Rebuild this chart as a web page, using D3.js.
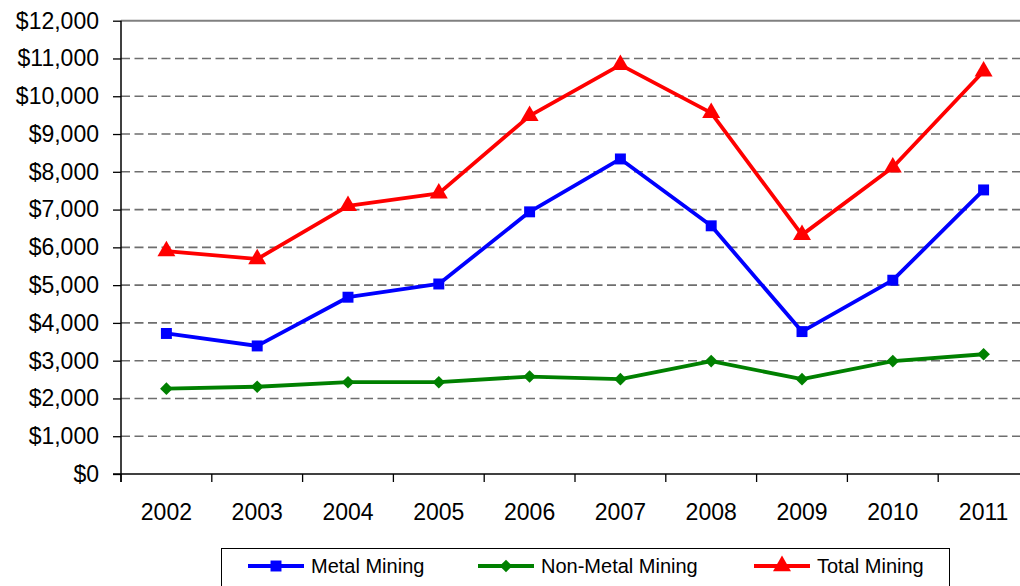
<!DOCTYPE html>
<html>
<head>
<meta charset="utf-8">
<script src="https://cdn.jsdelivr.net/npm/d3@7"></script>
<style>
  body { margin: 0; background: #fff; }
  svg { display: block; font-family: "Liberation Sans", Arial, sans-serif; }
</style>
</head>
<body>
<svg id="chart" width="1020" height="586"></svg>
<script>
// data ($ millions)
const years = ["2002","2003","2004","2005","2006","2007","2008","2009","2010","2011"];
const metalMining    = [3720, 3390, 4680, 5030, 6940, 8340, 6570, 3770, 5130, 7520];
const nonMetalMining = [2260, 2310, 2430, 2430, 2580, 2510, 2990, 2510, 2990, 3170];
const totalMining    = [5900, 5690, 7100, 7430, 9480, 10830, 9560, 6330, 8120, 10660];
const yTicks = [0,1000,2000,3000,4000,5000,6000,7000,8000,9000,10000,11000,12000];
const seriesNames = ["Metal Mining", "Non-Metal Mining", "Total Mining"];

// diamond = square turned 45 degrees (excel style)
const series = [
  {name: seriesNames[0], values: metalMining, color: "#0000ff", symbol: d3.symbolSquare, size: 120, rot: 0},
  {name: seriesNames[1], values: nonMetalMining, color: "#008000", symbol: d3.symbolSquare, size: 80, rot: 45},
  {name: seriesNames[2], values: totalMining, color: "#ff0000", symbol: d3.symbolTriangle, size: 140, rot: 0}
];

const svg = d3.select("#chart");
const plotLeft = 121, plotRight = 1029, plotTop = 20.7, plotBottom = 474;

let x = d3.scaleBand().domain(years).range([plotLeft, plotRight]).padding(0);
let y = d3.scaleLinear().domain([0, 12000]).range([plotBottom, plotTop]);

// title - cut off by the top edge in the original, only descenders show
svg.append("text")
  .attr("x", 520).attr("y", -5)
  .attr("text-anchor", "middle")
  .attr("font-size", 24).attr("font-weight", "bold")
  .text("Arizona Mining Value by Sector, by Year");

// dashed grid lines
svg.append("g").selectAll("line")
  .data(yTicks.filter(d => d > 0 && d < 12000))
  .enter().append("line")
  .attr("x1", plotLeft).attr("x2", 1020)
  .attr("y1", d => y(d)).attr("y2", d => y(d))
  .attr("stroke", "#6e6e6e").attr("stroke-width", 1.6)
  .attr("stroke-dasharray", "9,4.5");

// top border of plot
svg.append("line")
  .attr("x1", plotLeft).attr("x2", 1020)
  .attr("y1", y(12000)).attr("y2", y(12000))
  .attr("stroke", "#808080").attr("stroke-width", 2);

// y axis
let yAxis = svg.append("g")
  .attr("transform", "translate(" + plotLeft + ",0)")
  .call(d3.axisLeft(y).tickValues(yTicks).tickSize(8).tickPadding(14)
    .tickFormat(d => "$" + d3.format(",")(d)));
yAxis.select(".domain").remove();
yAxis.selectAll(".tick line").attr("stroke", "#000").attr("stroke-width", 1.3);
yAxis.selectAll("text").attr("font-size", 23).attr("fill", "#000")
  .attr("font-family", "'Liberation Sans', Arial, sans-serif");

svg.append("line")
  .attr("x1", plotLeft).attr("x2", plotLeft)
  .attr("y1", plotTop).attr("y2", plotBottom + 8)
  .attr("stroke", "#000").attr("stroke-width", 1.5);

// x axis
let xAxis = svg.append("g")
  .attr("transform", "translate(0," + plotBottom + ")")
  .call(d3.axisBottom(x).tickSize(0).tickPadding(30));
xAxis.select(".domain").remove();
xAxis.selectAll("text").attr("font-size", 23).attr("fill", "#000")
  .attr("font-family", "'Liberation Sans', Arial, sans-serif");

svg.append("line")
  .attr("x1", plotLeft - 8).attr("x2", 1020)
  .attr("y1", plotBottom).attr("y2", plotBottom)
  .attr("stroke", "#000").attr("stroke-width", 1.5);

svg.append("g").selectAll("line")
  .data(years.map(d => x(d)).concat([x.range()[1]]))
  .enter().append("line")
  .attr("x1", d => d).attr("x2", d => d)
  .attr("y1", plotBottom).attr("y2", plotBottom + 8)
  .attr("stroke", "#000").attr("stroke-width", 1.3);

// lines + markers
const cx = (d, i) => x(years[i]) + x.bandwidth() / 2;
const line = d3.line().x(cx).y(d => y(d));

series.forEach(s => {
  svg.append("path")
    .datum(s.values)
    .attr("fill", "none")
    .attr("stroke", s.color)
    .attr("stroke-width", 3.8)
    .attr("stroke-linejoin", "round")
    .attr("d", line);

  svg.append("g").selectAll("path")
    .data(s.values)
    .enter().append("path")
    .attr("d", d3.symbol().type(s.symbol).size(s.size))
    .attr("fill", s.color)
    .attr("transform", (d, i) => "translate(" + cx(d, i) + "," + y(d) + ") rotate(" + s.rot + ")");
});

// legend
const legend = svg.append("g");
legend.append("rect")
  .attr("x", 221.5).attr("y", 548.5).attr("width", 728).attr("height", 50)
  .attr("fill", "#fff").attr("stroke", "#000").attr("stroke-width", 1);

const legendX = [248, 478, 754];
series.forEach((s, i) => {
  let g = legend.append("g").attr("transform", "translate(" + legendX[i] + ",566)");
  g.append("line").attr("x1", 0).attr("x2", 56).attr("y1", 0).attr("y2", 0)
    .attr("stroke", s.color).attr("stroke-width", 3.8);
  g.append("path").attr("d", d3.symbol().type(s.symbol).size(s.size))
    .attr("fill", s.color).attr("transform", "translate(28,0) rotate(" + s.rot + ")");
  g.append("text").attr("x", 63).attr("y", 0).attr("dy", "0.35em")
    .attr("font-size", 20).attr("fill", "#000")
    .text(s.name);
});
</script>
</body>
</html>
